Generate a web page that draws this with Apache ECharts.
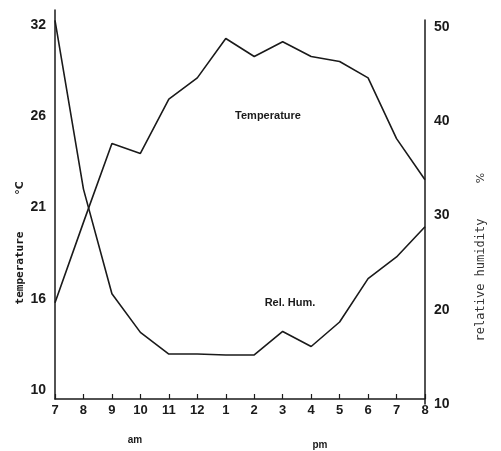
<!DOCTYPE html>
<html>
<head>
<meta charset="utf-8">
<script src="https://cdn.jsdelivr.net/npm/echarts@6/dist/echarts.min.js"></script>
<style>
  html, body { margin: 0; padding: 0; background: #fff; }
  #chart { width: 501px; height: 451px; }
</style>
</head>
<body>
<div id="chart"></div>
<script>
// Hourly readings, 7 am to 8 pm
const hours = ['7', '8', '9', '10', '11', '12', '1', '2', '3', '4', '5', '6', '7', '8'];
const temperatureC = [15.3, 20.2, 25.0, 24.4, 27.7, 29.0, 31.4, 30.3, 31.2, 30.3, 30.0, 29.0, 25.3, 22.8];
const relHumidity = [50.7, 32.8, 21.7, 17.6, 15.3, 15.3, 15.2, 15.2, 17.7, 16.1, 18.7, 23.3, 25.6, 28.8];

// The temperature scale runs evenly in °F; its ticks carry the rounded °C values
const tempTicksF = [50, 60, 70, 80, 90];
const tempTickLabels = ['10', '16', '21', '26', '32'];
const humTicks = [10, 20, 30, 40, 50];

const toF = c => c * 9 / 5 + 32;
const ink = '#1a1a1a';
const axisLine = { show: true, lineStyle: { color: ink, width: 1.5 } };
const tickFont = { color: ink, fontSize: 14, fontWeight: 'bold', fontFamily: 'Liberation Sans' };

const chart = echarts.init(document.getElementById('chart'), null, { renderer: 'canvas' });
chart.setOption({
  animation: false,
  backgroundColor: '#fff',
  grid: [
    { left: 55, right: 76, top: 10, bottom: 52 },
    { left: 55, right: 76, top: 20, bottom: 47 }
  ],
  xAxis: [
    {
      type: 'category', gridIndex: 0, data: hours, boundaryGap: false,
      axisLine: axisLine,
      axisTick: { show: true, inside: true, length: 5, lineStyle: { color: ink, width: 1.2 } },
      axisLabel: { margin: 5, fontSize: 13, interval: 0, color: ink, fontWeight: 'bold', fontFamily: 'Liberation Sans' },
      splitLine: { show: false }
    },
    {
      type: 'category', gridIndex: 1, data: hours, boundaryGap: false, show: false
    }
  ],
  yAxis: [
    {
      type: 'value', gridIndex: 0, position: 'left', min: 49.0, max: 91.64,
      axisLine: axisLine, axisTick: { show: false }, splitLine: { show: false },
      axisLabel: Object.assign({
        margin: 9, customValues: tempTicksF,
        formatter: v => { const i = tempTicksF.indexOf(Math.round(v)); return i < 0 ? '' : tempTickLabels[i]; }
      }, tickFont)
    },
    {
      type: 'value', gridIndex: 1, position: 'right', min: 10, max: 50.74,
      axisLine: axisLine, axisTick: { show: false }, splitLine: { show: false },
      axisLabel: Object.assign({
        margin: 9, customValues: humTicks,
        formatter: v => humTicks.indexOf(Math.round(v)) < 0 ? '' : String(Math.round(v))
      }, tickFont)
    }
  ],
  series: [
    {
      name: 'Temperature', type: 'line', xAxisIndex: 0, yAxisIndex: 0,
      data: temperatureC.map(toF), showSymbol: false, silent: true,
      lineStyle: { color: ink, width: 1.6 }
    },
    {
      name: 'Rel. Hum.', type: 'line', xAxisIndex: 1, yAxisIndex: 1,
      data: relHumidity, showSymbol: false, silent: true,
      lineStyle: { color: ink, width: 1.6 }
    }
  ],
  graphic: [
    { type: 'text', x: 268, y: 116, style: { text: 'Temperature', font: 'bold 11px "Liberation Sans"', fill: ink, align: 'center', verticalAlign: 'middle' } },
    { type: 'text', x: 290, y: 303, style: { text: 'Rel. Hum.', font: 'bold 11px "Liberation Sans"', fill: ink, align: 'center', verticalAlign: 'middle' } },
    { type: 'text', x: 135, y: 440, style: { text: 'am', font: 'bold 10px "Liberation Sans"', fill: ink, align: 'center', verticalAlign: 'middle' } },
    { type: 'text', x: 320, y: 445, style: { text: 'pm', font: 'bold 10px "Liberation Sans"', fill: ink, align: 'center', verticalAlign: 'middle' } },
    { type: 'text', x: 20, y: 268, rotation: Math.PI / 2, style: { text: 'temperature', font: 'bold 11px "DejaVu Sans Mono"', fill: ink, align: 'center', verticalAlign: 'middle' } },
    { type: 'text', x: 20, y: 188, rotation: Math.PI / 2, style: { text: '°C', font: 'bold 11px "DejaVu Sans"', fill: ink, align: 'center', verticalAlign: 'middle' } },
    { type: 'text', x: 481, y: 280, rotation: Math.PI / 2, style: { text: 'relative humidity', font: '12px "DejaVu Sans Mono"', fill: '#333', align: 'center', verticalAlign: 'middle' } },
    { type: 'text', x: 481, y: 178, rotation: Math.PI / 2, style: { text: '%', font: '11px "DejaVu Sans"', fill: '#333', align: 'center', verticalAlign: 'middle' } }
  ]
});
</script>
</body>
</html>
